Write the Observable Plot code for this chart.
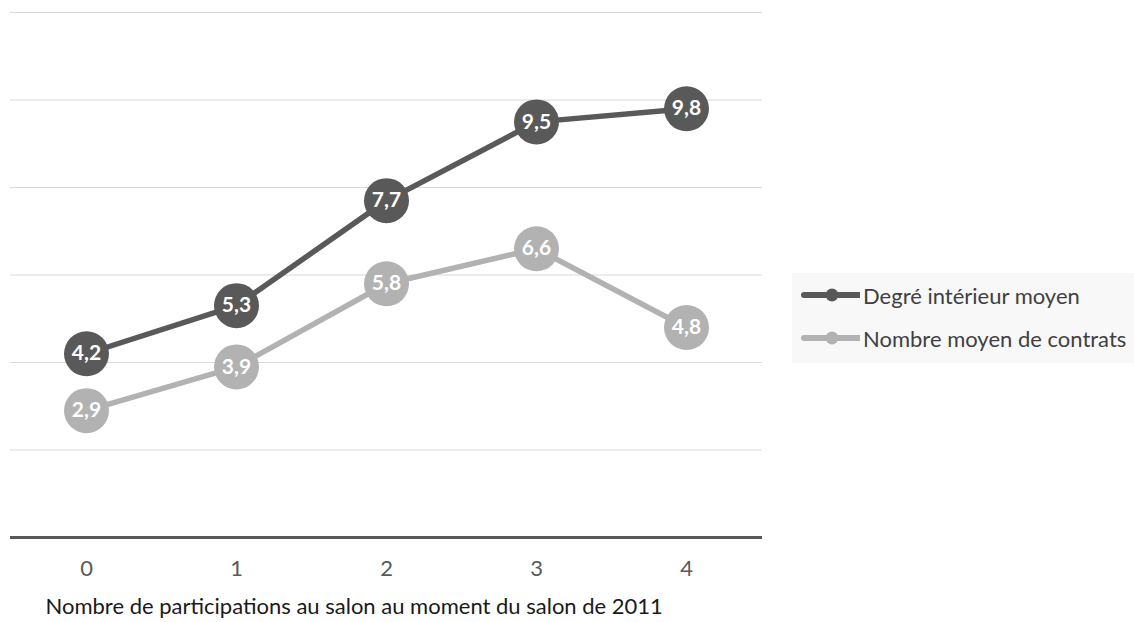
<!DOCTYPE html>
<html><head><meta charset="utf-8">
<script src="https://cdn.jsdelivr.net/npm/d3@7"></script>
<script src="https://cdn.jsdelivr.net/npm/@observablehq/plot@0.6"></script>
<style>
body{margin:0;background:#fff;font-family:Lato,"Open Sans",sans-serif;}
#wrap{position:relative;width:1134px;height:622px;}
#legend{position:absolute;left:792px;top:273px;width:342px;height:90px;background:#f8f8f8;}
.item{position:absolute;left:6px;height:30px;display:flex;align-items:center;font-size:22px;color:#404040;white-space:nowrap;}
.item svg{margin-right:3px;}
</style></head><body>
<div id="wrap"><div id="chart"></div><div id="legend"></div></div>
<script>
const categories = ["0", "1", "2", "3", "4"];
const seriesNames = ["Degré intérieur moyen", "Nombre moyen de contrats"];
const degreValues = [4.2, 5.3, 7.7, 9.5, 9.8];
const contratsValues = [2.9, 3.9, 5.8, 6.6, 4.8];
const gridValues = [2, 4, 6, 8, 10, 12];
const xTitle = "Nombre de participations au salon au moment du salon de 2011";
const colors = ["#595959", "#b2b2b2"];

const fmt = v => v.toFixed(1).replace(".", ",");
const rows = [
  ...categories.map((c, i) => ({cat: c, value: degreValues[i], series: seriesNames[0]})),
  ...categories.map((c, i) => ({cat: c, value: contratsValues[i], series: seriesNames[1]}))
];

const plot = Plot.plot({
  width: 1134, height: 622,
  marginLeft: 10, marginRight: 372, marginTop: 12, marginBottom: 85,
  style: {fontFamily: "Lato, 'Open Sans', sans-serif", fontSize: "22px", color: "#595959", background: "transparent"},
  x: {type: "point", domain: categories, padding: 0.5, label: null, axis: null},
  y: {domain: [0, 12], axis: null},
  color: {domain: seriesNames, range: colors},
  marks: [
    Plot.ruleY(gridValues, {stroke: "#d9d9d9", strokeWidth: 1}),
    Plot.ruleY([0], {stroke: "#595959", strokeWidth: 3}),
    Plot.line(rows, {x: "cat", y: "value", z: "series", stroke: "series", strokeWidth: 5.5}),
    Plot.dot(rows, {x: "cat", y: "value", fill: "series", r: 22.5}),
    Plot.text(rows, {x: "cat", y: "value", text: d => fmt(d.value), fill: "white", fontWeight: "bold", fontSize: 21}),
    Plot.axisX({tickSize: 0, tickPadding: 23, fontSize: 22, fill: "#595959", label: null}),
    Plot.text([xTitle], {frameAnchor: "bottom-left", dx: 35, dy: 69, textAnchor: "start", lineAnchor: "middle", fontSize: 22, fill: "#1a1a1a"})
  ]
});
document.getElementById("chart").appendChild(plot);

const legend = document.getElementById("legend");
seriesNames.forEach((name, i) => {
  const item = document.createElement("div");
  item.className = "item";
  item.style.top = (7 + i * 43) + "px";
  item.innerHTML = `<svg width="62" height="20"><line x1="6" y1="10" x2="63" y2="10" stroke="${colors[i]}" stroke-width="6" stroke-linecap="round"/><circle cx="34" cy="10" r="6.5" fill="${colors[i]}"/></svg>`;
  const span = document.createElement("span");
  span.textContent = name;
  item.appendChild(span);
  legend.appendChild(item);
});
</script>
</body></html>
